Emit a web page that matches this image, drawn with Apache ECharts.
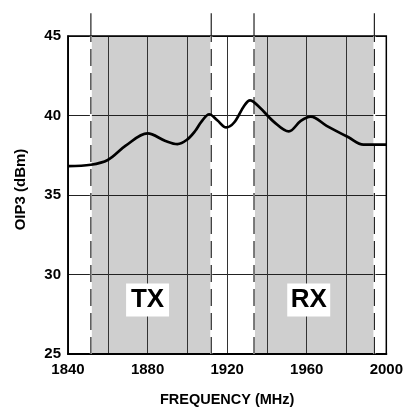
<!DOCTYPE html>
<html>
<head>
<meta charset="utf-8">
<script src="https://cdn.jsdelivr.net/npm/echarts@6/dist/echarts.min.js"></script>
<style>
html,body{margin:0;padding:0;background:#fff;}
#c{width:406px;height:412px;}
</style>
</head>
<body>
<div id="c"></div>
<script>
// ---- data ----
var freq = [1840, 1851.5, 1860, 1869, 1880, 1889, 1895, 1900, 1904, 1907, 1911, 1915, 1919.5, 1923.5, 1928.5, 1931.5, 1936, 1943.5, 1951, 1957, 1962, 1970, 1981, 1988.5, 2000];
var oip3 = [36.82, 36.9, 37.2, 38.1, 38.87, 38.4, 38.2, 38.5, 39.04, 39.6, 40.08, 39.7, 39.25, 39.56, 40.6, 40.95, 40.55, 39.6, 39.0, 39.66, 39.93, 39.35, 38.63, 38.17, 38.17];
var bandNames = ['TX', 'RX'];
var bandStart = [1851.5, 1933.5];
var bandEnd = [1912, 1994];
var bandLabelX = [1880, 1961];
var bandLabelY = 28.4;
var xTickLabels = [1840, 1880, 1920, 1960, 2000];
var yTickLabels = [25, 30, 35, 40, 45];
var edgeTop = 46.43;

var FONT = '"Liberation Sans", Arial, sans-serif';

var chart = echarts.init(document.getElementById('c'), null, {renderer: 'canvas'});

var edges = [];
bandStart.forEach(function (s, i) { edges.push(s); edges.push(bandEnd[i]); });

var series = [];
// gray bands
series.push({
  type: 'line',
  data: [],
  z: 1,
  silent: true,
  markArea: {
    silent: true,
    itemStyle: {color: '#cfcfcf'},
    data: bandStart.map(function (s, i) { return [{xAxis: s}, {xAxis: bandEnd[i]}]; })
  }
});
// edge lines
edges.forEach(function (e) {
  series.push({
    type: 'line', z: 4, silent: true, symbol: 'none', clip: false,
    lineStyle: {color: '#ffffff', width: 2},
    data: [[e, 25], [e, 45]]
  });
  series.push({
    type: 'line', z: 5, silent: true, symbol: 'none', clip: false,
    lineStyle: {color: '#222', width: 1.2, type: [17, 7]},
    data: [[e, 25], [e, 45]]
  });
  series.push({
    type: 'line', z: 5, silent: true, symbol: 'none', clip: false,
    lineStyle: {color: '#222', width: 1.2},
    data: [[e, 45], [e, edgeTop]]
  });
});
// curve + band labels
series.push({
  type: 'line', name: 'OIP3', z: 6, symbol: 'none', smooth: 0.35,
  lineStyle: {color: '#000', width: 2.7},
  data: freq.map(function (f, i) { return [f, oip3[i]]; }),
  markPoint: {
    silent: true,
    symbol: 'rect',
    symbolSize: [43, 33],
    itemStyle: {color: '#ffffff', opacity: 1},
    label: {
      show: true, position: 'inside', color: '#000', opacity: 1,
      fontFamily: FONT, fontWeight: 'bold', fontSize: 26,
      formatter: function (p) { return p.name; }
    },
    data: bandNames.map(function (n, i) { return {name: n, coord: [bandLabelX[i], bandLabelY]}; })
  }
});

chart.setOption({
  animation: false,
  backgroundColor: '#fff',
  grid: {left: 68, right: 17, top: 36, bottom: 55, show: true, z: 3,
         borderColor: '#000', borderWidth: 1.5, backgroundColor: 'transparent'},
  xAxis: {
    type: 'value', min: 1840, max: 2000, interval: 20, z: 2,
    name: 'FREQUENCY (MHz)', nameLocation: 'middle', nameGap: 38,
    nameTextStyle: {fontFamily: FONT, fontWeight: 'bold', fontSize: 14.5, color: '#000'},
    axisLine: {show: true, onZero: false, lineStyle: {color: '#000', width: 2}},
    axisTick: {show: false},
    splitLine: {show: true, lineStyle: {color: '#333', width: 1}},
    axisLabel: {
      margin: 8, color: '#000', fontFamily: FONT, fontWeight: 'bold', fontSize: 15,
      formatter: function (v) { return xTickLabels.indexOf(v) >= 0 ? String(v) : ''; }
    }
  },
  yAxis: {
    type: 'value', min: 25, max: 45, interval: 5, z: 2,
    name: 'OIP3 (dBm)', nameLocation: 'middle', nameGap: 40, nameRotate: 90,
    nameTextStyle: {fontFamily: FONT, fontWeight: 'bold', fontSize: 15, color: '#000', padding: [0, 0, 0, 11]},
    axisLine: {show: true, lineStyle: {color: '#000', width: 1.5}},
    axisTick: {show: false},
    splitLine: {show: true, lineStyle: {color: '#222', width: 1}},
    axisLabel: {
      margin: 7, color: '#000', fontFamily: FONT, fontWeight: 'bold', fontSize: 15,
      formatter: function (v) { return yTickLabels.indexOf(v) >= 0 ? String(v) : ''; }
    }
  },
  series: series
});
</script>
</body>
</html>
